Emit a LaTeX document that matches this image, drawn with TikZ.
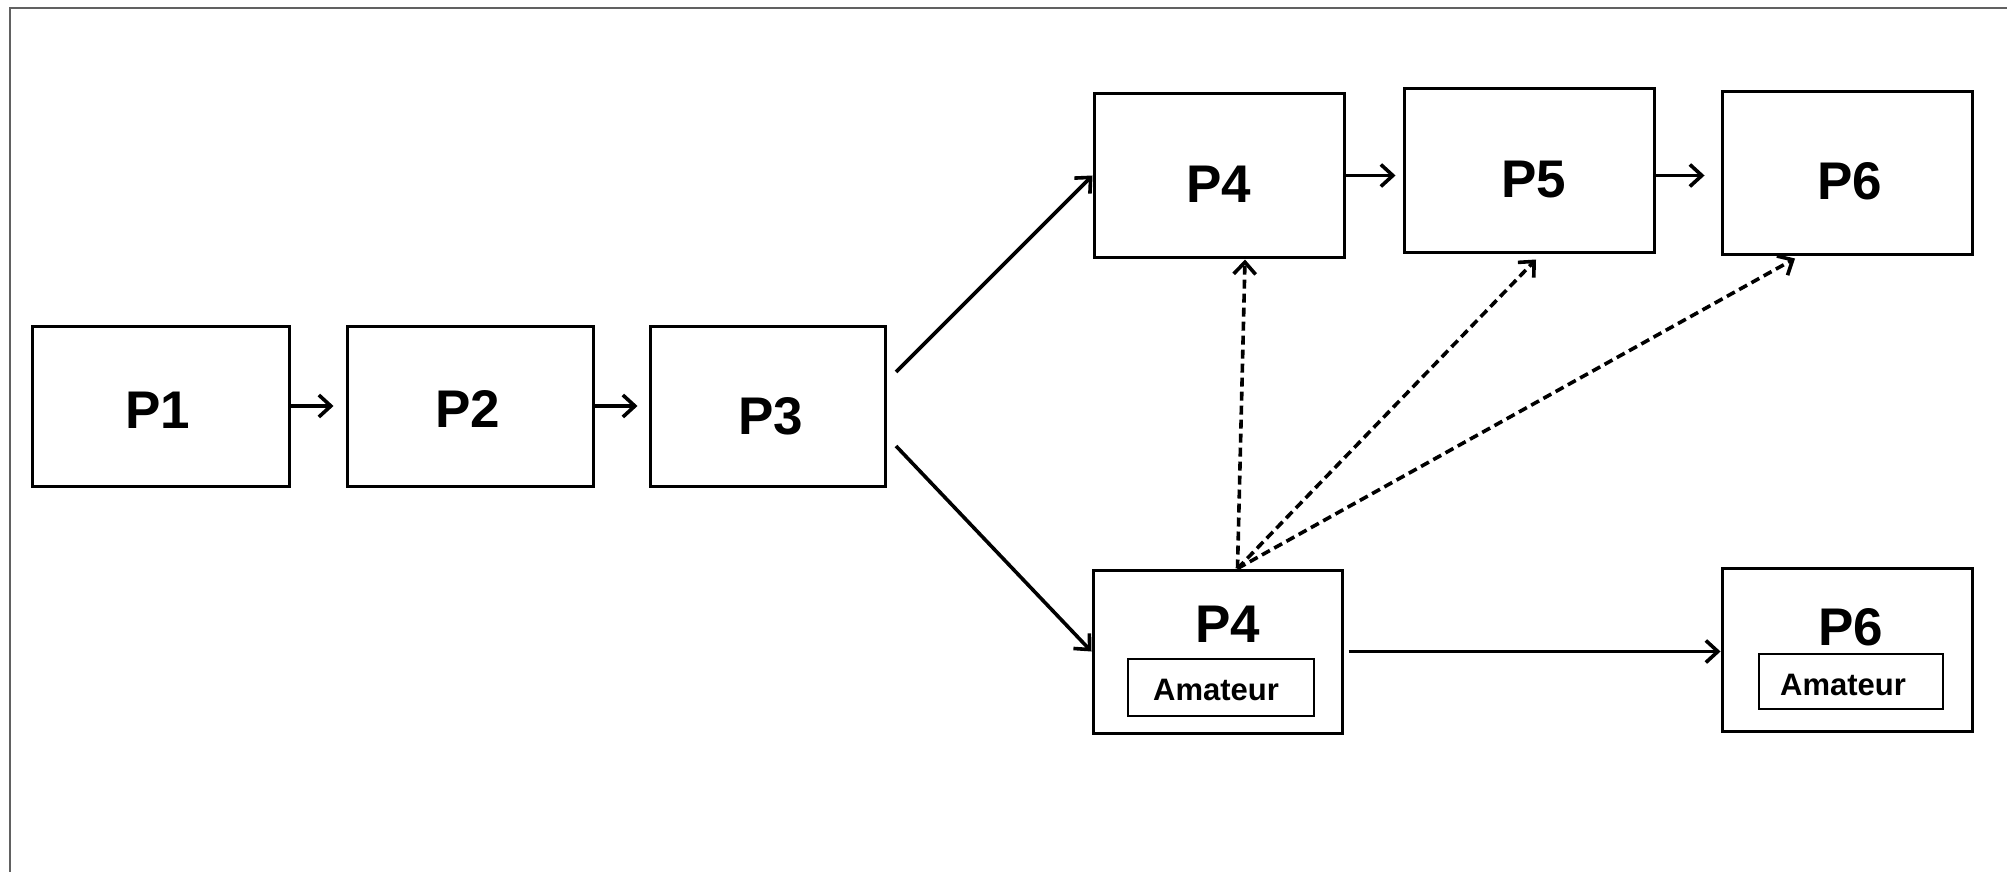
\documentclass[tikz,border=0pt]{standalone}
\usepackage{fontspec}
\setmainfont{Liberation Sans}
\usetikzlibrary{arrows.meta}
\begin{document}
\begin{tikzpicture}[x=1pt,y=-1pt,
  box/.style={draw, line width=3pt, inner sep=0pt},
  inbox/.style={draw, line width=1.8pt, inner sep=0pt},
  big/.style={font=\bfseries\fontsize{53}{60}\selectfont, inner sep=0pt, anchor=base},
  small/.style={font=\bfseries\fontsize{31}{36}\selectfont, inner sep=0pt, anchor=base},
  arr/.style={line width=3.6pt, -{Straight Barb[length=12pt,width=22pt,line width=3.6pt]}},
  darr/.style={arr, dash pattern=on 9pt off 5pt}]
\useasboundingbox (0,0) rectangle (2007,872);
% frame
\draw[line width=2pt, color=black!62] (10,872) -- (10,8) -- (2007,8);
% boxes
\node[box, minimum width=257pt, minimum height=160pt] (p1) at (160.5,406) {};
\node[box, minimum width=246pt, minimum height=160pt] (p2) at (470,406) {};
\node[box, minimum width=235pt, minimum height=160pt] (p3) at (767.5,406) {};
\node[box, minimum width=250pt, minimum height=163pt] (p4a) at (1219,175.5) {};
\node[box, minimum width=250pt, minimum height=163pt] (p5) at (1529,170.5) {};
\node[box, minimum width=250pt, minimum height=162pt] (p6a) at (1847,173) {};
\node[box, minimum width=249pt, minimum height=163pt] (p4b) at (1217.5,651.5) {};
\node[box, minimum width=250pt, minimum height=163pt] (p6b) at (1847,649.5) {};
\node[inbox, minimum width=186pt, minimum height=57pt] (am4) at (1221,687.5) {};
\node[inbox, minimum width=184pt, minimum height=55pt] (am6) at (1851,681.5) {};
% labels
\node[big] (t1) at (157.5,428) {P1};
\node[big] (t2) at (468,427) {P2};
\node[big] (t3) at (771,434) {P3};
\node[big] (t4a) at (1219,202) {P4};
\node[big] (t5) at (1534,197) {P5};
\node[big] (t6a) at (1850,199) {P6};
\node[big] (t4b) at (1228,642) {P4};
\node[big] (t6b) at (1851,645) {P6};
\node[small] (a4) at (1216,700) {Amateur};
\node[small] (a6) at (1843,695) {Amateur};
% connectors
\coordinate (s1) at (896,372);
\coordinate (s2) at (896,446);
\draw[arr] (p1.east) -- ([xshift=-12pt]p2.west);
\draw[arr] (p2.east) -- ([xshift=-11pt]p3.west);
\draw[arr] (s1) -- (p4a.west);
\draw[arr] (s2) -- (p4b.west);
\draw[arr, shorten >=7pt] (p4a.east) -- (p4a.east -| p5.west);
\draw[arr, shorten >=16pt] (p5.east |- p4a.east) -- (p4a.east -| p6a.west);
\draw[arr, shorten <=5pt] (p4b.east) -- (p4b.east -| p6b.west);
\coordinate (d0) at ([xshift=20pt]p4b.north);
\draw[darr] (d0) -- ([xshift=26pt,yshift=-1pt]p4a.south);
\draw[darr] (d0) -- ([xshift=7pt,yshift=-6pt]p5.south);
\draw[darr] (d0) -- ([xshift=-52pt,yshift=-3pt]p6a.south);
\end{tikzpicture}
\end{document}
